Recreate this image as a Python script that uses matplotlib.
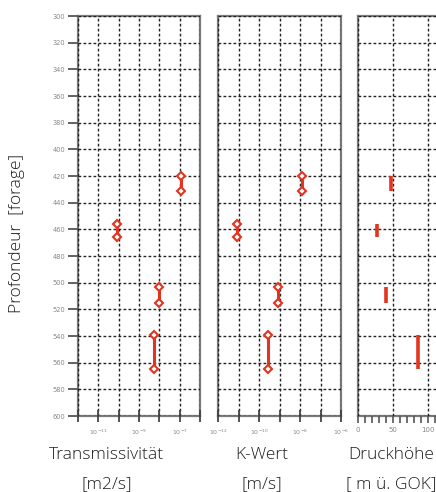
import matplotlib.pyplot as plt
import numpy as np

# Tiefenintervalle [forage] (oben, unten)
depth_top = [420, 456, 503, 539]
depth_bot = [431, 466, 515, 565]

# Werte je Intervall
transmissivity = [1.2e-7, 8.0e-11, 1.0e-8, 5.5e-9]
k_value = [1.25e-8, 8.5e-12, 8.0e-10, 2.6e-10]
druckhoehe = [47, 27, 40, 86]

depth_ticks = list(range(300, 601, 20))

W, H = 436, 492
fig = plt.figure(figsize=(W / 100, H / 100), dpi=100)

red = "#e2341f"
grey = "#7a7a7a"
txt = "#1e1e1e"


def px_axes(x0, x1, y0, y1):
    return fig.add_axes([x0 / W, 1 - y1 / H, (x1 - x0) / W, (y1 - y0) / H])


ax1 = px_axes(78, 200, 16, 416)
ax2 = px_axes(218, 341, 16, 416)
ax3 = px_axes(358, 480, 16, 416)

for ax in (ax1, ax2, ax3):
    ax.set_ylim(600, 300)
    ax.set_yticks(depth_ticks)
    for s in ax.spines.values():
        s.set_color(grey)
        s.set_linewidth(1.6)
    ax.grid(True, color="#222222", linestyle=(0, (2.0, 1.6)), linewidth=1.0)
    ax.set_axisbelow(False)

for ax in (ax1, ax2):
    ax.set_xscale("log")
    ax.set_xlim(1e-12, 1e-6)
    ax.set_xticks([10.0 ** e for e in range(-12, -5)])
    ax.minorticks_off()
    ax.tick_params(axis="x", direction="inout", length=9, width=1.3, color="#444444",
                   labelsize=4.5, labelcolor="#888888", pad=4)

ax1.set_xticklabels(["", r"$10^{-11}$", "", r"$10^{-9}$", "", r"$10^{-7}$", ""])
ax2.set_xticklabels([r"$10^{-12}$", "", r"$10^{-10}$", "", r"$10^{-8}$", "", r"$10^{-6}$"])

ax1.tick_params(axis="y", direction="out", length=7, width=1.3, color="#555555",
                labelsize=4.8, labelcolor="#888888", pad=2)
for ax in (ax2, ax3):
    ax.tick_params(axis="y", left=False, labelleft=False)

ax3.set_xlim(0, 174)
ax3.set_xticks([0, 50, 100, 150])
ax3.set_xticklabels(["0", "50", "100", "150"])
ax3.set_xticks(np.arange(0, 175, 10), minor=True)
ax3.tick_params(axis="x", which="both", direction="out", length=5, width=1.2, color="#555555",
                labelsize=5, labelcolor="#888888", pad=3)
ax3.grid(True, which="major", color="#222222", linestyle=(0, (2.0, 1.6)), linewidth=1.0)

for ax, vals in ((ax1, transmissivity), (ax2, k_value)):
    for v, t, b in zip(vals, depth_top, depth_bot):
        ax.plot([v, v], [t, b], color=red, linewidth=2.2, zorder=4)
        ax.plot([v, v], [t, b], linestyle="none", marker="D", markersize=4.2,
                markerfacecolor="white", markeredgecolor=red, markeredgewidth=1.5, zorder=5)

for v, t, b in zip(druckhoehe, depth_top, depth_bot):
    ax3.plot([v, v], [t, b], color=red, linewidth=2.6, zorder=4, solid_capstyle="butt")


def ftext(x, y, s, size=12.5, **kw):
    fig.text(x / W, 1 - y / H, s, ha="center", va="center", color=txt,
             fontsize=size, family="Open Sans", fontweight="light", **kw)


ftext(106, 455, "Transmissivität")
ftext(107, 484, "[m2/s]")
ftext(262, 455, "K-Wert")
ftext(262, 484, "[m/s]")
ftext(391, 455, "Druckhöhe")
ftext(391, 484, "[ m ü. GOK]")
ftext(17, 233, "Profondeur  [forage]", size=12.5, rotation=90)

fig.savefig("out.png", dpi=100)
